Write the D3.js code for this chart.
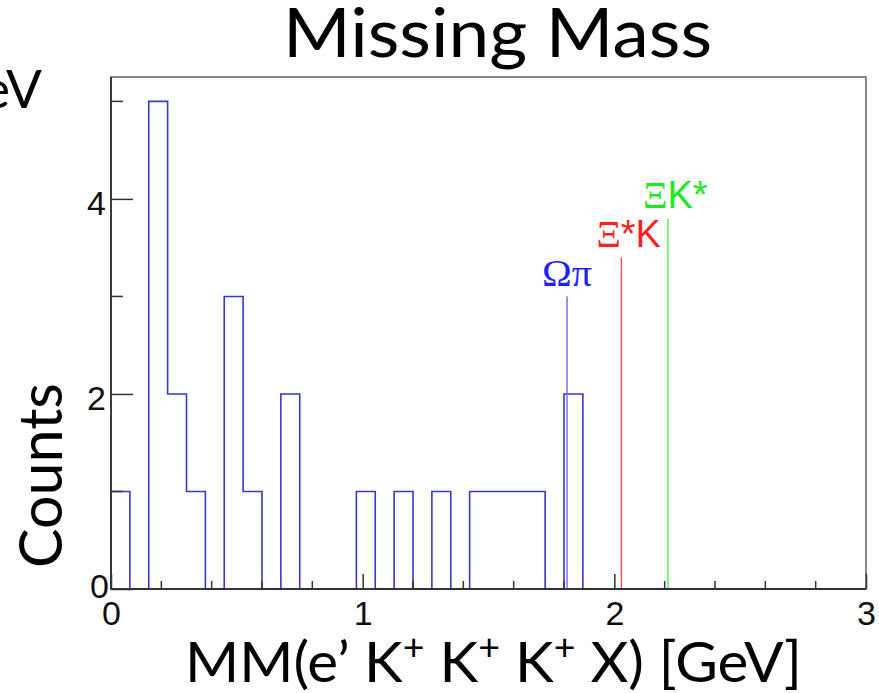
<!DOCTYPE html>
<html>
<head>
<meta charset="utf-8">
<script src="https://cdn.jsdelivr.net/npm/d3@7"></script>
<style>
  html, body { margin: 0; padding: 0; background: #fff; }
  svg { display: block; }
</style>
</head>
<body>
<svg id="chart" width="879" height="693"></svg>
<script>
// ---- data ----
const xDomain = [0, 3];
const yDomain = [0, 5.25];
const nBins = 40;
const binCounts = [1,0,5,2,1,0,3,1,0,2, 0,0,0,1,0,1,0,1,0,1, 1,1,1,0,2,0,0,0,0,0, 0,0,0,0,0,0,0,0,0,0];
const xTickLabels = [0, 1, 2, 3];
const xMinorTicks = [0.2,0.4,0.6,0.8,1.2,1.4,1.6,1.8,2.2,2.4,2.6,2.8];
const yTickLabels = [0, 2, 4];
const yMinorTicks = [1, 3, 5];
const markerNames = ["Ωπ", "Ξ*K", "ΞK*"];
const markerMass = [1.812, 2.028, 2.213];
const markerHeight = [3.0, 3.4, 3.8];
const titleText = "Missing Mass";
const yTitleText = "Counts";

// ---- styles ----
const markerColors = ["#6a6aff", "#ff4a4a", "#4ef04e"];
const markerTextColors = ["#1f1fff", "#ff1f1f", "#1fe81f"];
const markerTextLen = [50, null, null];
const histColor = "#3838c6";
const sansDeck = "Lato, 'Open Sans', sans-serif";
const rootFont = "'Liberation Sans', Arial, sans-serif";
const symFont = "'Liberation Serif', 'Times New Roman', serif";

const svg = d3.select("#chart");
const plot = { left: 111, right: 866, top: 77, bottom: 589 };
const x = d3.scaleLinear().domain(xDomain).range([plot.left, plot.right]);
const y = d3.scaleLinear().domain(yDomain).range([plot.bottom, plot.top]);

// histogram
const binW = (xDomain[1] - xDomain[0]) / nBins;
const pts = [[xDomain[0], 0]];
binCounts.forEach((c, i) => pts.push([xDomain[0] + i * binW, c]));
pts.push([xDomain[1], 0]);
const line = d3.line().x(d => x(d[0])).y(d => y(d[1])).curve(d3.curveStepAfter);
svg.append("path").attr("d", line(pts))
  .attr("fill", "none").attr("stroke", histColor).attr("stroke-width", 1.6);

// marker lines
markerMass.forEach((m, i) => {
  svg.append("line")
    .attr("x1", x(m)).attr("x2", x(m))
    .attr("y1", y(0)).attr("y2", y(markerHeight[i]))
    .attr("stroke", markerColors[i]).attr("stroke-width", 1.4);
});

// marker labels
function addMarkerLabel(i) {
  const t = svg.append("text")
    .attr("x", x(markerMass[i]) - 25)
    .attr("y", y(markerHeight[i]) - 10)
    .attr("fill", markerTextColors[i])
    .attr("font-size", 38);
  if (markerTextLen[i]) t.attr("textLength", markerTextLen[i]).attr("lengthAdjust", "spacingAndGlyphs");
  const name = markerNames[i];
  for (const ch of name) {
    const isGreek = /[Α-Ωα-ω]/.test(ch);
    t.append("tspan").text(ch)
      .attr("font-family", isGreek ? symFont : rootFont);
  }
}
markerNames.forEach((_, i) => addMarkerLabel(i));

// frame
svg.append("rect")
  .attr("x", plot.left).attr("y", plot.top)
  .attr("width", plot.right - plot.left).attr("height", plot.bottom - plot.top)
  .attr("fill", "none").attr("stroke", "#6a6a6a").attr("stroke-width", 1.6);

// axes lines (darker)
svg.append("line").attr("x1", plot.left).attr("x2", plot.right)
  .attr("y1", plot.bottom).attr("y2", plot.bottom)
  .attr("stroke", "#1a1a2a").attr("stroke-width", 1.6);
svg.append("line").attr("x1", plot.left).attr("x2", plot.left)
  .attr("y1", plot.top).attr("y2", plot.bottom)
  .attr("stroke", "#2a2a2a").attr("stroke-width", 1.6);

// x ticks
const xAxisMajor = d3.axisBottom(x).tickValues(xTickLabels).tickSize(0).tickFormat(d3.format("d"));
const gx = svg.append("g").attr("transform", `translate(0,${plot.bottom})`).call(xAxisMajor);
gx.select(".domain").remove();
gx.selectAll("text").attr("font-family", rootFont).attr("font-size", 34)
  .attr("fill", "#111").attr("dy", null).attr("y", 36);
gx.selectAll(".tick").append("line").attr("y1", 0).attr("y2", -15)
  .attr("stroke", "#333").attr("stroke-width", 1.5);
svg.append("g").selectAll("line").data(xMinorTicks).join("line")
  .attr("x1", d => x(d)).attr("x2", d => x(d))
  .attr("y1", plot.bottom).attr("y2", plot.bottom - 8)
  .attr("stroke", "#333").attr("stroke-width", 1.5);

// y ticks
const yAxisMajor = d3.axisLeft(y).tickValues(yTickLabels).tickSize(0).tickFormat(d3.format("d"));
const gy = svg.append("g").attr("transform", `translate(${plot.left},0)`).call(yAxisMajor);
gy.select(".domain").remove();
gy.selectAll("text").attr("font-family", rootFont).attr("font-size", 34)
  .attr("fill", "#111").attr("x", d => d === 0 ? -2 : -5).attr("dy", d => d === 0 ? "0.24em" : "0.45em");
gy.selectAll(".tick").append("line").attr("x1", 0).attr("x2", 22)
  .attr("stroke", "#333").attr("stroke-width", 1.5);
svg.append("g").selectAll("line").data(yMinorTicks).join("line")
  .attr("x1", plot.left).attr("x2", plot.left + 12)
  .attr("y1", d => y(d)).attr("y2", d => y(d))
  .attr("stroke", "#333").attr("stroke-width", 1.5);

// title
svg.append("text").attr("x", 283).attr("y", 57)
  .attr("font-family", sansDeck).attr("font-size", 68).attr("fill", "#000")
  .attr("textLength", 429).attr("lengthAdjust", "spacingAndGlyphs")
  .text(titleText);

// cut-off text at top-left
svg.append("text").attr("x", 42).attr("y", 108).attr("text-anchor", "end")
  .attr("font-family", sansDeck).attr("font-size", 53).attr("fill", "#000")
  .text("eV");

// y title
svg.append("text")
  .attr("transform", "translate(62,568) rotate(-90)")
  .attr("font-family", sansDeck).attr("font-size", 60).attr("fill", "#000")
  .attr("textLength", 185).attr("lengthAdjust", "spacingAndGlyphs")
  .text(yTitleText);

// x title
const xt = svg.append("text").attr("x", 185).attr("y", 682)
  .attr("font-family", sansDeck).attr("font-size", 56).attr("fill", "#000")
  .attr("textLength", 617).attr("lengthAdjust", "spacingAndGlyphs");
const parts = [["MM(e’ K", false], ["+", true], [" K", false], ["+", true], [" K", false], ["+", true], [" X) [GeV]", false]];
parts.forEach(([s, sup], i) => {
  const ts = xt.append("tspan").text(s);
  const prevSup = i > 0 && parts[i - 1][1];
  if (sup) ts.attr("font-size", 36).attr("dy", -22);
  else ts.attr("dy", prevSup ? 22 : 0);
});
</script>
</body>
</html>
